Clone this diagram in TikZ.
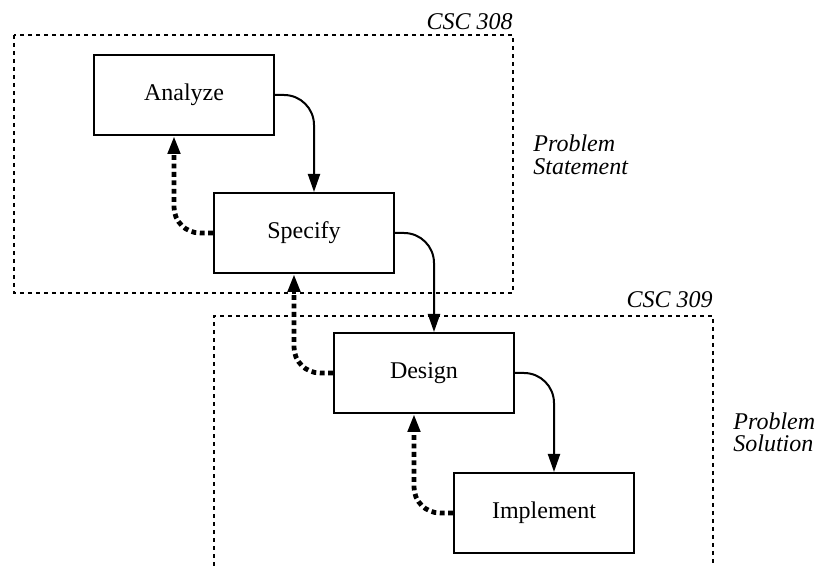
\documentclass[tikz,border=0pt]{standalone}
\usepackage{fontspec}
\setmainfont{Liberation Serif}
\usetikzlibrary{arrows.meta,positioning,calc}
\tikzset{
  fazis/.style={draw,line width=1pt,minimum width=90pt,minimum height=40pt,inner sep=0pt},
  elore/.style={line width=1pt,rounded corners=15pt,-{Triangle[length=9pt,width=6pt]}},
  vissza/.style={line width=2.4pt,dash pattern=on 2.4pt off 1.8pt,rounded corners=13pt,-{Triangle[length=9pt,width=6pt]}},
  keret/.style={line width=0.9pt,dash pattern=on 2pt off 2pt},
  felirat/.style={font=\fontsize{12}{11.5}\selectfont\itshape,inner sep=0pt},
}
\begin{document}
\begin{tikzpicture}[x=0.5pt,y=-0.5pt,font=\fontsize{12}{14}\selectfont]
  \useasboundingbox (0,0) rectangle (815,572);
  % course frames
  \draw[keret] (14,35) rectangle (513,293);
  \draw[keret] (214,566) -- (214,316) -- (713,316) -- (713,566);
  \node[felirat,anchor=base east] (csc308) at (513,30) {CSC 308};
  \node[felirat,anchor=base east] (csc309) at (713,308) {CSC 309};
  \node[felirat,align=left,anchor=base west] (stmt) at (533,175) {Problem\\Statement};
  \node[felirat,align=left,anchor=base west] (sol) at (733,452) {Problem\\Solution};
  % phases
  \node[fazis] (anal) at (184,95) {Analyze};
  \node[fazis] (spec) at (304,233) {Specify};
  \node[fazis] (dsgn) at (424,373) {Design};
  \node[fazis] (impl) at (544,513) {Implement};
  % forward
  \draw[elore] (anal.east) -| ([xshift=5pt]spec.north);
  \draw[elore] (spec.east) -| ([xshift=5pt]dsgn.north);
  \draw[elore] (dsgn.east) -| ([xshift=5pt]impl.north);
  % back
  \draw[vissza] (spec.west) -| ([xshift=-5pt]anal.south);
  \draw[vissza] (dsgn.west) -| ([xshift=-5pt]spec.south);
  \draw[vissza] (impl.west) -| ([xshift=-5pt]dsgn.south);
\end{tikzpicture}
\end{document}
